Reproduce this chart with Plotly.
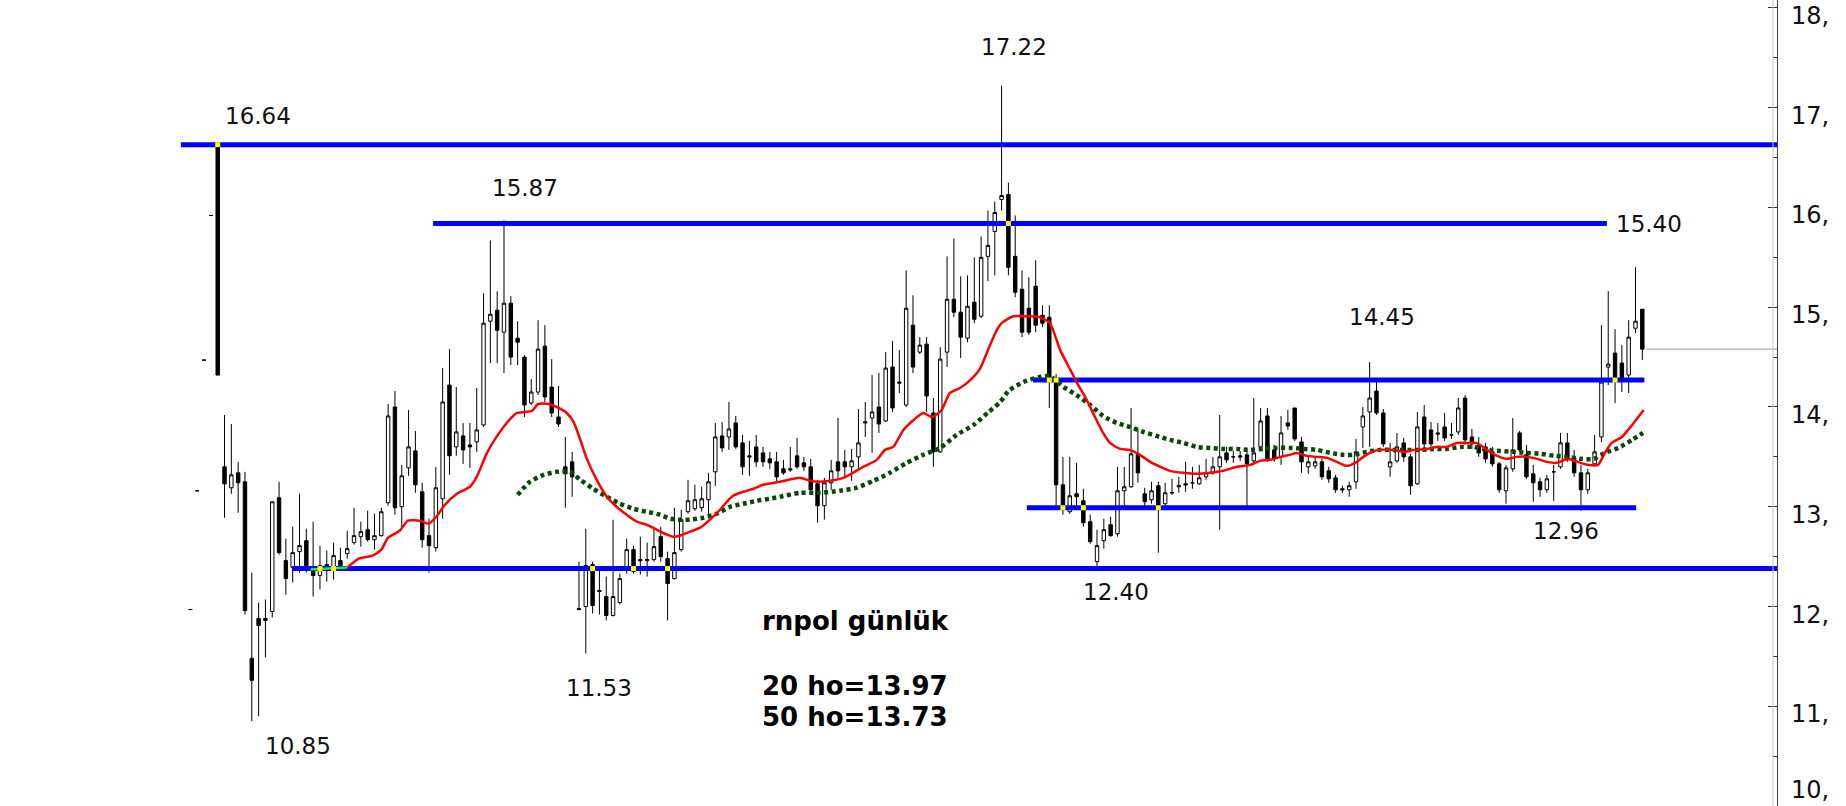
import plotly.graph_objects as go

# ---------------- data ----------------
idx = list(range(-4, 210))

opens = [11.97, 13.16, 14.47, 15.92,
         16.64, 13.40, 13.19, 13.34, 13.25, 11.48, 11.88, 11.88, 11.95, 13.09,
         12.46, 12.39, 12.55, 12.66, 12.38, 12.31, 12.42, 12.39, 12.46, 12.53,
         12.64, 12.70, 12.77, 12.67, 12.71, 13.04, 14.00, 13.00, 13.39, 13.56,
         13.15, 12.71, 12.59, 13.08, 14.22, 13.60, 13.71, 13.62, 13.65, 13.82,
         14.86, 14.97, 14.75, 15.04, 14.69, 14.50, 14.04, 14.15, 14.61, 14.20,
         13.90, 13.40, 13.45, 11.98, 12.00, 12.42, 12.16, 12.10, 11.91, 12.04,
         12.38, 12.57, 12.47, 12.46, 12.47, 12.70, 12.48, 12.28, 12.57, 12.95,
         12.98, 12.99, 13.07, 13.35, 13.71, 13.70, 13.84, 13.64, 13.51, 13.60,
         13.54, 13.48, 13.45, 13.38, 13.38, 13.51, 13.44, 13.40, 13.23, 13.01,
         13.24, 13.45, 13.45, 13.40, 13.50, 13.84, 13.89, 14.00, 13.86, 14.40,
         14.25, 14.02, 14.82, 14.55, 14.63, 13.94, 13.55, 14.55, 15.08, 14.95,
         14.69, 15.05, 14.91, 15.51, 15.76, 16.08, 16.13, 15.51, 15.18, 14.99,
         15.21, 14.92, 14.90, 14.27, 13.22, 12.95, 13.13, 13.06, 12.85, 12.45,
         12.66, 12.82, 12.73, 13.16, 13.20, 13.53, 13.13, 13.07, 13.21, 13.03,
         13.14, 13.20, 13.23, 13.24, 13.23, 13.30, 13.34, 13.40, 13.54, 13.50,
         13.51, 13.52, 13.46, 13.60, 13.91, 13.57, 13.50, 13.84, 13.99, 13.65,
         13.40, 13.41, 13.45, 13.36, 13.29, 13.18, 13.17, 13.25, 13.80, 13.95,
         14.16, 13.94, 13.40, 13.46, 13.64, 13.50, 13.23, 13.90, 13.77, 13.74,
         13.80, 13.72, 13.75, 14.09, 13.70, 13.62, 13.60, 13.55, 13.43, 13.16,
         13.38, 13.74, 13.52, 13.33, 13.25, 13.17, 13.35, 13.40, 13.64, 13.49,
         13.34, 13.17, 13.43, 13.70, 14.40, 14.54, 14.44, 14.32, 14.79, 14.98]

highs = [11.97, 13.16, 14.47, 15.92,
         16.64, 13.92, 13.83, 13.45, 13.35, 12.34, 12.04, 12.07, 13.05, 13.25,
         12.68, 12.80, 13.13, 12.78, 12.85, 12.61, 12.56, 12.64, 12.59, 12.76,
         12.99, 12.85, 12.96, 12.93, 12.99, 14.03, 14.16, 13.42, 13.97, 13.76,
         13.24, 12.88, 13.40, 14.39, 14.58, 14.20, 13.84, 13.84, 14.19, 15.14,
         15.67, 15.16, 15.87, 15.11, 14.86, 14.52, 14.28, 14.87, 14.82, 14.48,
         14.21, 13.70, 13.55, 12.45, 12.78, 12.45, 12.40, 12.30, 12.87, 12.33,
         12.68, 12.61, 12.70, 12.64, 12.80, 12.80, 12.55, 12.99, 12.97, 13.27,
         13.22, 13.20, 13.34, 13.84, 13.85, 14.05, 13.91, 13.72, 13.66, 13.72,
         13.60, 13.55, 13.55, 13.47, 13.60, 13.69, 13.50, 13.48, 13.27, 13.29,
         13.47, 13.89, 13.57, 13.58, 13.98, 14.05, 14.32, 14.34, 14.55, 14.66,
         14.57, 15.37, 15.12, 14.70, 14.70, 14.09, 14.60, 15.51, 15.69, 15.31,
         15.32, 15.50, 15.71, 15.97, 16.06, 17.22, 16.25, 15.92, 15.37, 15.30,
         15.47, 15.02, 15.02, 14.33, 13.50, 13.50, 13.44, 13.18, 12.92, 12.77,
         12.88, 12.90, 13.40, 13.40, 13.99, 13.78, 13.19, 13.25, 13.25, 13.24,
         13.28, 13.30, 13.45, 13.40, 13.42, 13.48, 13.50, 13.92, 13.60, 13.56,
         13.56, 13.56, 14.09, 13.99, 13.99, 13.62, 13.91, 13.97, 13.99, 13.70,
         13.50, 13.50, 13.48, 13.40, 13.32, 13.21, 13.25, 13.68, 14.00, 14.45,
         14.25, 13.98, 13.64, 13.74, 13.69, 13.53, 13.95, 14.02, 13.85, 13.84,
         13.94, 13.84, 14.09, 14.12, 13.78, 13.70, 13.64, 13.60, 13.45, 13.42,
         13.89, 13.76, 13.62, 13.42, 13.29, 13.32, 13.42, 13.74, 13.74, 13.57,
         13.42, 13.38, 13.72, 14.82, 15.16, 14.78, 14.62, 14.87, 15.40, 14.98]

lows = [11.97, 13.16, 14.47, 15.92,
        14.32, 12.89, 13.13, 12.94, 11.92, 10.85, 10.90, 11.49, 11.89, 12.52,
        12.12, 12.24, 12.34, 12.34, 12.10, 12.17, 12.25, 12.27, 12.36, 12.48,
        12.62, 12.60, 12.65, 12.57, 12.70, 13.01, 12.92, 12.79, 13.31, 13.14,
        12.59, 12.34, 12.55, 12.88, 13.32, 13.51, 13.43, 13.39, 13.55, 13.80,
        14.44, 14.44, 14.34, 14.42, 14.42, 13.90, 14.02, 14.12, 14.05, 13.90,
        13.80, 12.99, 13.10, 11.96, 11.53, 11.93, 11.92, 11.86, 11.90, 12.02,
        12.33, 12.33, 12.32, 12.30, 12.45, 12.45, 11.86, 12.27, 12.55, 12.93,
        12.96, 12.95, 12.92, 13.21, 13.55, 13.57, 13.58, 13.32, 13.31, 13.40,
        13.40, 13.38, 13.24, 13.32, 13.35, 13.38, 13.36, 13.14, 12.84, 12.87,
        13.17, 13.29, 13.29, 13.26, 13.36, 13.70, 13.54, 13.74, 13.85, 13.95,
        14.14, 14.00, 14.34, 14.53, 13.95, 13.40, 13.54, 14.40, 14.90, 14.49,
        14.65, 14.84, 14.89, 15.26, 15.32, 15.97, 15.32, 15.10, 14.70, 14.72,
        14.75, 14.80, 13.99, 13.00, 12.92, 12.93, 12.97, 12.80, 12.63, 12.40,
        12.58, 12.70, 12.70, 12.97, 13.19, 13.24, 13.00, 13.03, 12.54, 13.00,
        13.12, 13.14, 13.15, 13.18, 13.22, 13.27, 13.32, 12.77, 13.44, 13.44,
        13.46, 13.00, 13.44, 13.59, 13.45, 13.45, 13.42, 13.77, 13.66, 13.34,
        13.33, 13.38, 13.27, 13.24, 13.14, 13.14, 13.10, 13.18, 13.59, 13.60,
        13.92, 13.60, 13.30, 13.44, 13.45, 13.12, 13.22, 13.58, 13.60, 13.66,
        13.66, 13.68, 13.72, 13.62, 13.58, 13.50, 13.44, 13.40, 13.14, 13.03,
        13.35, 13.55, 13.28, 13.05, 13.10, 13.14, 13.06, 13.38, 13.45, 13.30,
        12.96, 13.13, 13.41, 13.65, 14.22, 14.04, 14.15, 14.14, 14.74, 14.47]

closes = [11.97, 13.16, 14.47, 15.92,
          14.32, 13.23, 13.32, 13.24, 11.96, 11.26, 11.81, 11.86, 13.05, 12.54,
          12.28, 12.54, 12.61, 12.41, 12.31, 12.41, 12.36, 12.51, 12.38, 12.58,
          12.71, 12.75, 12.67, 12.71, 12.95, 13.91, 12.99, 13.31, 13.60, 13.22,
          12.67, 12.61, 13.19, 14.05, 13.51, 13.75, 13.57, 13.60, 13.77, 14.84,
          14.93, 14.77, 15.04, 14.50, 14.65, 14.02, 14.15, 14.58, 14.10, 13.94,
          13.83, 13.33, 13.30, 11.97, 12.41, 12.01, 12.15, 11.91, 12.10, 12.28,
          12.57, 12.35, 12.46, 12.47, 12.60, 12.50, 12.23, 12.54, 12.87, 13.06,
          13.07, 13.08, 13.25, 13.70, 13.59, 13.78, 13.60, 13.40, 13.50, 13.45,
          13.45, 13.44, 13.30, 13.34, 13.37, 13.40, 13.40, 13.17, 13.01, 13.24,
          13.36, 13.36, 13.40, 13.46, 13.64, 13.85, 13.95, 13.83, 14.39, 13.99,
          14.24, 14.99, 14.40, 14.62, 14.11, 13.55, 14.48, 15.08, 14.95, 14.70,
          15.01, 14.88, 15.50, 15.62, 15.95, 16.12, 15.40, 15.15, 14.75, 14.75,
          14.82, 14.84, 14.27, 13.22, 12.98, 13.11, 13.10, 12.84, 12.65, 12.61,
          12.77, 12.71, 13.16, 13.20, 13.53, 13.34, 13.05, 13.16, 13.00, 13.14,
          13.14, 13.21, 13.22, 13.24, 13.29, 13.34, 13.40, 13.50, 13.47, 13.50,
          13.50, 13.43, 13.54, 13.86, 13.47, 13.48, 13.74, 13.81, 13.68, 13.45,
          13.45, 13.45, 13.30, 13.28, 13.17, 13.17, 13.21, 13.55, 13.91, 14.09,
          13.94, 13.63, 13.45, 13.60, 13.50, 13.21, 13.80, 13.63, 13.63, 13.73,
          13.69, 13.72, 13.99, 13.67, 13.63, 13.54, 13.48, 13.43, 13.17, 13.39,
          13.57, 13.57, 13.30, 13.24, 13.17, 13.28, 13.35, 13.64, 13.47, 13.34,
          13.17, 13.34, 13.55, 14.25, 14.43, 14.28, 14.28, 14.70, 14.86, 14.58]

# 20-period average (red)
ma20_x = [19, 20.7, 22.7, 24, 25, 26.7, 27.9, 29.7, 30.9, 32.2, 33.2, 35.1, 37, 38,
          39.5, 40.9, 42.4, 43.9, 45.1, 46.1, 47, 48.5, 49.7, 51.2, 52.2, 53.2, 54.1,
          55.6, 57.1, 58.5, 60, 61.5, 62.9, 64.4, 65.9, 66.8, 67.8, 69.3, 70.8, 72.2,
          73.7, 74.7, 75.6, 77.1, 78.6, 80, 82.5, 85.4, 86.9, 88.1, 89.8, 91.8, 93.2,
          94.7, 96.7, 97.9, 99.1, 100.6, 102.1, 103.5, 104.8, 106.2, 107.4, 108.9,
          110.4, 111.8, 113.3, 114.3, 115, 116.7, 118.7, 120.6, 122.1, 123.6, 125.1,
          126, 127.5, 128.7, 129.9, 130.9, 132.4, 133.8, 135.3, 136.8, 138.3, 139.7,
          141.7, 143.6, 145.6, 147.5, 149.5, 151.5, 152.9, 154.4, 155.9, 157.3, 158.3,
          159.8, 161.3, 162.7, 164.2, 165.6, 166.9, 168.1, 169.3, 170.5, 172.5, 174,
          175.4, 177.4, 178.8, 180.3, 181.8, 183.2, 184.7, 186.2, 187.7, 189.1, 190.6,
          192.1, 193.6, 195, 196.5, 198, 199.5, 201, 202.5, 203.5, 204.5, 206, 207.5,
          209.2]
ma20_y = [12.39, 12.48, 12.51, 12.57, 12.69, 12.76, 12.86, 12.86, 12.83, 12.91, 13.01,
          13.13, 13.20, 13.30, 13.54, 13.70, 13.84, 13.94, 13.95, 13.96, 14.03, 14.03,
          14.00, 13.94, 13.85, 13.67, 13.49, 13.27, 13.10, 13.00, 12.92, 12.85, 12.82,
          12.77, 12.72, 12.70, 12.71, 12.75, 12.79, 12.87, 12.97, 13.05, 13.11, 13.15,
          13.18, 13.22, 13.25, 13.29, 13.26, 13.25, 13.26, 13.29, 13.34, 13.40, 13.47,
          13.57, 13.60, 13.77, 13.87, 13.94, 13.90, 13.97, 14.14, 14.19, 14.27, 14.38,
          14.62, 14.77, 14.84, 14.91, 14.91, 14.90, 14.84, 14.57, 14.37, 14.25, 14.07,
          13.90, 13.74, 13.64, 13.58, 13.57, 13.52, 13.45, 13.40, 13.36, 13.34, 13.33,
          13.34, 13.36, 13.40, 13.42, 13.46, 13.47, 13.50, 13.52, 13.54, 13.51, 13.50,
          13.49, 13.45, 13.41, 13.44, 13.50, 13.55, 13.57, 13.57, 13.55, 13.57, 13.58,
          13.60, 13.60, 13.64, 13.64, 13.64, 13.57, 13.51, 13.48, 13.50, 13.50, 13.48,
          13.45, 13.44, 13.48, 13.45, 13.42, 13.42, 13.54, 13.64, 13.70, 13.82, 13.97]

# 50-period average (dark green, dotted)
ma50_x = [44, 45.8, 47.8, 49.7, 51.7, 53.2, 55.1, 57.1, 59, 61, 62.9, 64.9, 66.4, 67.8,
          69.3, 71.2, 73.2, 75.2, 77.1, 79.1, 81, 82.5, 85.4, 88.4, 91.3, 93.7, 96.2,
          98.6, 101.1, 103.5, 106, 108.4, 110.9, 113.1, 114.8, 116, 118.2, 120.6,
          122.1, 124.1, 126, 128, 129.9, 131.9, 133.8, 135.8, 137.7, 139.7, 141.7,
          143.6, 145.6, 147.5, 149.5, 151.5, 153.4, 155.4, 157.3, 159.3, 161.3, 163.2,
          165.2, 166.6, 168.6, 170.5, 172.5, 174.5, 176.4, 178.4, 180.3, 182.3, 184.2,
          186.2, 188.2, 190.1, 192.1, 194.1, 196.1, 198, 200, 201.9, 203.5, 205.5,
          207.5, 209.1]
ma50_y = [13.12, 13.25, 13.32, 13.35, 13.35, 13.27, 13.18, 13.10, 13.03, 12.98, 12.95,
          12.92, 12.88, 12.87, 12.87, 12.89, 12.93, 13.00, 13.03, 13.06, 13.08, 13.10,
          13.14, 13.14, 13.16, 13.19, 13.26, 13.34, 13.44, 13.52, 13.59, 13.72, 13.82,
          13.95, 14.05, 14.16, 14.25, 14.30, 14.31, 14.20, 14.12, 14.02, 13.91, 13.84,
          13.80, 13.75, 13.71, 13.67, 13.64, 13.60, 13.59, 13.58, 13.58, 13.57, 13.58,
          13.59, 13.59, 13.58, 13.57, 13.54, 13.52, 13.52, 13.55, 13.57, 13.57, 13.57,
          13.57, 13.58, 13.58, 13.60, 13.60, 13.57, 13.56, 13.55, 13.54, 13.53, 13.51,
          13.50, 13.48, 13.48, 13.54, 13.59, 13.67, 13.74]

# short bright-green start of the average, lying on the support line
lime_x = [13.6, 16.0, 19.0]
lime_y = [12.37, 12.38, 12.39]

# drawn horizontal levels
level_vals = [16.63, 15.84, 14.27, 12.99, 12.38]
level_from = [-5.4, 31.6, 119.6, 118.7, 10.9]
level_to = [228.8, 203.8, 209.3, 208.1, 228.8]

# yellow touch markers where candles meet the levels
touch_x = [0, 116, 122, 123, 205, 124, 127, 138, 55, 61, 66, 15, 17]
touch_y = [16.63, 15.84, 14.27, 14.27, 14.27, 12.99, 12.99, 12.99, 12.38, 12.38, 12.38, 12.38, 12.38]

# price labels
label_text = ["16.64", "15.87", "17.22", "15.40", "14.45", "12.40", "12.96", "11.53", "10.85"]
label_x = [5.91, 45.01, 116.83, 209.92, 170.82, 131.79, 197.81, 55.87, 11.78]
label_y = [16.92, 16.20, 17.61, 15.83, 14.90, 12.15, 12.76, 11.18, 10.60]

title_lines = ["rnpol günlük", "20 ho=13.97", "50 ho=13.73"]
title_y = [11.85, 11.20, 10.89]
title_x = 79.6

# right-hand axis labels (cut off by the window edge in the original)
axis_vals = [10, 11, 12, 13, 14, 15, 16, 17, 18]
axis_text = ["10,", "11,", "12,", "13,", "14,", "15,", "16,", "17,", "18,"]

X_MIN, X_MAX = -31.94, 228.76
Y_MIN, Y_MAX = 10.0, 18.08

# ---------------- figure ----------------
fig = go.Figure()

fig.add_trace(go.Candlestick(
    x=idx, open=opens, high=highs, low=lows, close=closes,
    increasing=dict(line=dict(color='#000000', width=1), fillcolor='#ffffff'),
    decreasing=dict(line=dict(color='#000000', width=1), fillcolor='#000000'),
    whiskerwidth=0, hoverinfo='skip', showlegend=False))

for v, a, b in zip(level_vals, level_from, level_to):
    fig.add_trace(go.Scatter(x=[a, b], y=[v, v], mode='lines',
                             line=dict(color='#0000ff', width=5),
                             hoverinfo='skip', showlegend=False))

# last price line
fig.add_trace(go.Scatter(x=[idx[-1] + 0.6, X_MAX], y=[closes[-1], closes[-1]], mode='lines',
                         line=dict(color='#9a9a9a', width=1), hoverinfo='skip', showlegend=False))

fig.add_trace(go.Scatter(x=ma50_x, y=ma50_y, mode='lines',
                         line=dict(color='#0a470a', width=4.5, dash='4px,3.5px', shape='spline', smoothing=0.6),
                         hoverinfo='skip', showlegend=False))
fig.add_trace(go.Scatter(x=ma20_x, y=ma20_y, mode='lines',
                         line=dict(color='#ff0000', width=2.5, shape='spline', smoothing=0.6),
                         hoverinfo='skip', showlegend=False))
fig.add_trace(go.Scatter(x=lime_x, y=lime_y, mode='lines',
                         line=dict(color='#22ee22', width=2.5),
                         hoverinfo='skip', showlegend=False))
fig.add_trace(go.Scatter(x=touch_x, y=touch_y, mode='markers',
                         marker=dict(symbol='square', size=5, color='#ffff00', line=dict(width=0)),
                         hoverinfo='skip', showlegend=False))

annotations = []
for t, x, y in zip(label_text, label_x, label_y):
    annotations.append(dict(x=x, y=y, xref='x', yref='y', text=t, showarrow=False,
                            xanchor='center', yanchor='middle',
                            font=dict(family='DejaVu Sans', size=23, color='#111111')))
for t, y in zip(title_lines, title_y):
    annotations.append(dict(x=title_x, y=y, xref='x', yref='y', text='<b>' + t + '</b>',
                            showarrow=False, xanchor='left', yanchor='middle',
                            font=dict(family='DejaVu Sans', size=26, color='#000000')))
for t, v in zip(axis_text, axis_vals):
    bottom = (v == Y_MIN)
    annotations.append(dict(x=1, y=v, xref='paper', yref='y', text=t, showarrow=False,
                            xanchor='left', yanchor='bottom' if bottom else 'middle',
                            xshift=12, yshift=0 if bottom else -8,
                            font=dict(family='DejaVu Sans', size=24, color='#111111')))

fig.update_layout(
    width=1846, height=806,
    margin=dict(l=0, r=69, t=0, b=0),
    paper_bgcolor='white', plot_bgcolor='white',
    showlegend=False, boxgap=0.28,
    annotations=annotations,
    shapes=[dict(type='line', xref='paper', yref='paper', x0=1 - 4 / 1777, x1=1 - 4 / 1777,
                 y0=0, y1=1, line=dict(color='#c4c4c4', width=1))],
    xaxis=dict(visible=False, range=[X_MIN, X_MAX], rangeslider=dict(visible=False),
               showgrid=False, zeroline=False),
    yaxis=dict(side='right', range=[Y_MIN, Y_MAX], tickmode='linear', tick0=10, dtick=1,
               showticklabels=False, ticks='inside', ticklen=9, tickcolor='#333333',
               showline=True, linecolor='#444444', linewidth=1, showgrid=False, zeroline=False,
               automargin=False,
               minor=dict(ticks='inside', ticklen=4, dtick=0.5, tick0=10,
                          tickcolor='#333333', showgrid=False)),
)

fig.write_html("out.html",
               config={'displayModeBar': False},
               post_script="document.body.style.margin='0';document.body.style.overflow='hidden';")
